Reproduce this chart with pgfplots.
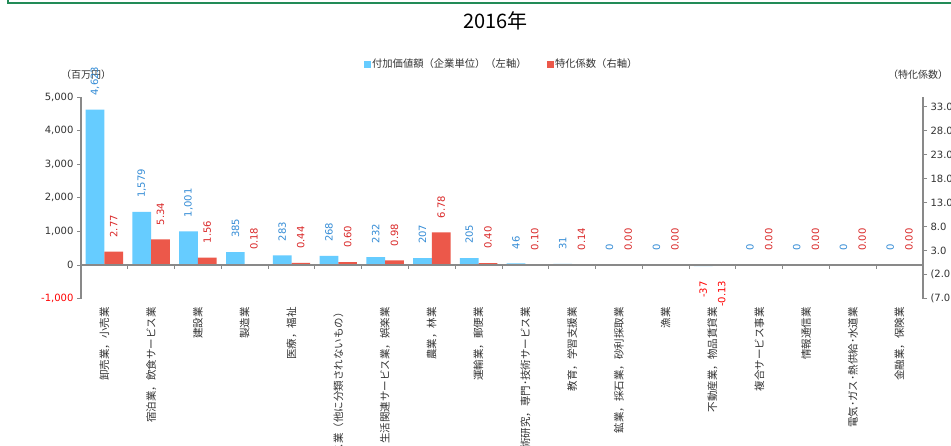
\documentclass[border=0pt]{standalone}
\usepackage{fontspec}
\setmainfont{DejaVu Sans}
\newfontfamily\jp{Noto Sans CJK JP}
\usepackage{pgfplots}
\usepackage{pgfplotstable}
\pgfplotsset{compat=1.18}
\definecolor{barblue}{RGB}{102,204,255}
\definecolor{barred}{RGB}{236,88,74}
\definecolor{lblblue}{RGB}{52,140,214}
\definecolor{lblred}{RGB}{218,40,40}
\definecolor{negred}{RGB}{255,0,0}
\definecolor{axisgray}{RGB}{137,137,137}
\definecolor{ticktext}{RGB}{51,51,51}
\definecolor{framegreen}{RGB}{34,139,87}

\pgfplotstableread{
x va lva vc lvc
0 4623 4,623 2.77 2.77
1 1579 1,579 5.34 5.34
2 1001 1,001 1.56 1.56
3 385 385 0.18 0.18
4 283 283 0.44 0.44
5 268 268 0.60 0.60
6 232 232 0.98 0.98
7 207 207 6.78 6.78
8 205 205 0.40 0.40
9 46 46 0.10 0.10
10 31 31 0.14 0.14
11 0 0 0.00 0.00
12 0 0 0.00 0.00
13 -37 -37 -0.13 -0.13
14 0 0 0.00 0.00
15 0 0 0.00 0.00
16 0 0 0.00 0.00
17 0 0 0.00 0.00
}\data

\pgfplotsset{
  lbl/.style={
    draw=none, only marks, mark size=0pt, forget plot,
    nodes near coords, point meta=explicit symbolic,
  },
}

\begin{document}
\begin{tikzpicture}
\path[use as bounding box] (0pt,0pt) rectangle (951pt,445pt);
\clip (0pt,0pt) rectangle (951pt,445pt);
\fill[white] (0pt,0pt) rectangle (951pt,445pt);
\draw[framegreen, line width=2pt] (8.3pt,447pt) -- (8.3pt,442.3pt) -- (953pt,442.3pt);
\node[font=\jp\fontsize{20}{23}\selectfont, text=black] at (495.5pt,424pt) {2016年};
\node[font=\jp\fontsize{10}{12}\selectfont, text=ticktext] at (86pt,370pt) {（百万円）};
\node[font=\jp\fontsize{10}{12}\selectfont, text=ticktext] at (918pt,370pt) {（特化係数）};
\coordinate (O) at (81pt,146.4pt);

\begin{axis}[
  at={(O)}, anchor=south west, scale only axis,
  width=842pt, height=201.6pt,
  xmin=-0.5, xmax=17.5, ymin=-1000, ymax=5000,
  clip=false,
  axis y line*=left, axis x line*=bottom,
  x axis line style={draw=none},
  y axis line style={axisgray, line width=1.3pt},
  xtick={0,...,17},
  xticklabels={卸売業，小売業,宿泊業，飲食サービス業,建設業,製造業,医療，福祉,サービス業（他に分類されないもの）,生活関連サービス業，娯楽業,農業，林業,運輸業，郵便業,学術研究，専門･技術サービス業,教育，学習支援業,鉱業，採石業，砂利採取業,漁業,不動産業，物品賃貸業,複合サービス事業,情報通信業,電気･ガス･熱供給･水道業,金融業，保険業},
  xtick style={draw=none},
  xticklabel style={rotate=90, anchor=east, font=\jp\fontsize{10.5}{12}\selectfont, text=ticktext, xshift=-1pt},
  ytick={-1000,0,1000,2000,3000,4000,5000},
  yticklabels={{\color{negred}-1,000},0,{1,000},{2,000},{3,000},{4,000},{5,000}},
  yticklabel style={font=\fontsize{10}{12}\selectfont, text=ticktext},
  tick align=outside, major tick length=4pt,
  ytick style={axisgray, line width=1pt},
  legend style={at={(0.4995,1.1637)}, anchor=center, draw=none, fill=none,
    legend columns=2, font=\jp\fontsize{10.3}{12}\selectfont, text=ticktext,
    inner sep=0pt, /tikz/every even column/.append style={column sep=18pt}},
  legend cell align=left,
]
\addlegendimage{legend image code/.code={\fill[barblue] (0pt,-3pt) rectangle (6pt,3pt);}}
\addlegendentry{付加価値額（企業単位）（左軸）}
\addlegendimage{legend image code/.code={\fill[barred] (0pt,-3pt) rectangle (6pt,3pt);}}
\addlegendentry{特化係数（右軸）}
\addplot[ybar, bar width=18.7pt, bar shift=-9.35pt, fill=barblue, draw=none, forget plot]
  table[x=x, y=va] {\data};
\addplot[lbl, y filter/.expression={y<0 ? nan : y},
  every node near coord/.style={rotate=90, anchor=west, xshift=14pt, yshift=9.35pt,
    inner sep=0pt, font=\fontsize{10}{12}\selectfont, text=lblblue}]
  table[x=x, y=va, meta=lva] {\data};
\addplot[lbl, y filter/.expression={y<0 ? y : nan},
  every node near coord/.style={rotate=90, anchor=east, xshift=-15pt, yshift=9.35pt,
    inner sep=0pt, font=\fontsize{10}{12}\selectfont, text=negred}]
  table[x=x, y=va, meta=lva] {\data};
\end{axis}

\begin{axis}[
  at={(O)}, anchor=south west, scale only axis,
  width=842pt, height=201.6pt,
  xmin=-0.5, xmax=17.5, ymin=-7, ymax=35,
  clip=false,
  axis y line*=right, axis x line=none, xtick=\empty,
  y axis line style={axisgray, line width=1.3pt},
  ytick={-7,-2,3,8,13,18,23,28,33},
  yticklabels={(7.0),(2.0),3.0,8.0,13.0,18.0,23.0,28.0,33.0},
  yticklabel style={font=\fontsize{10}{12}\selectfont, text=ticktext},
  tick align=outside, major tick length=4pt,
  ytick style={axisgray, line width=1pt},
]
\addplot[ybar, bar width=18.7pt, bar shift=9.35pt, fill=barred, draw=none, forget plot]
  table[x=x, y=vc] {\data};
\addplot[lbl, y filter/.expression={y<0 ? nan : y},
  every node near coord/.style={rotate=90, anchor=west, xshift=14pt, yshift=-9.35pt,
    inner sep=0pt, font=\fontsize{10}{12}\selectfont, text=lblred}]
  table[x=x, y=vc, meta=lvc] {\data};
\addplot[lbl, y filter/.expression={y<0 ? y : nan},
  every node near coord/.style={rotate=90, anchor=east, xshift=-15pt, yshift=-9.35pt,
    inner sep=0pt, font=\fontsize{10}{12}\selectfont, text=negred}]
  table[x=x, y=vc, meta=lvc] {\data};
\draw[axisgray, line width=1.3pt] (axis cs:-0.5,0) -- (axis cs:17.5,0);
\pgfplotsinvokeforeach{0.5,1.5,2.5,3.5,4.5,5.5,6.5,7.5,8.5,9.5,10.5,11.5,12.5,13.5,14.5,15.5,16.5}{
  \draw[axisgray, line width=1pt] (axis cs:#1,0) -- ++(0pt,-4pt);
}
\end{axis}
\end{tikzpicture}
\end{document}
